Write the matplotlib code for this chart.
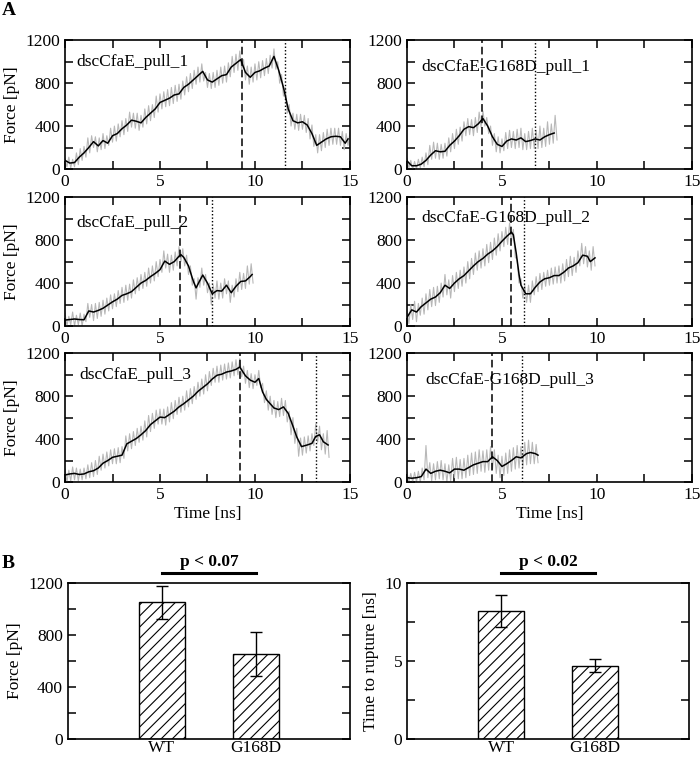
import numpy as np
import matplotlib
matplotlib.use('Agg')
import matplotlib.pyplot as plt
from matplotlib.ticker import MultipleLocator

plt.rcParams['font.family'] = ['Liberation Serif', 'DejaVu Serif']
plt.rcParams['font.size'] = 12.5
plt.rcParams['hatch.linewidth'] = 0.8

# ---- Panel A data: smoothed (black) traces, time in ns, force in pN ----
t_wt1 = [0, 0.25, 0.5, 0.75, 1.0, 1.25, 1.5, 1.75, 2.0, 2.25, 2.5, 2.75, 3.0, 3.25, 3.5, 3.75, 4.0,
         4.25, 4.5, 4.75, 5.0, 5.25, 5.5, 5.75, 6.0, 6.25, 6.5, 6.75, 7.0, 7.25, 7.5, 7.75, 8.0,
         8.25, 8.5, 8.75, 9.0, 9.25, 9.5, 9.75, 10.0, 10.25, 10.5, 10.75, 11.0, 11.25, 11.5, 11.75,
         12.0, 12.25, 12.5, 12.75, 13.0, 13.25, 13.5, 13.75, 14.0, 14.25, 14.5, 14.75, 14.9]
f_wt1 = [80, 55, 60, 110, 150, 200, 255, 215, 265, 240, 310, 330, 375, 410, 455, 445, 430,
         480, 520, 560, 620, 640, 660, 690, 700, 760, 790, 830, 870, 910, 830, 810, 840,
         870, 880, 950, 985, 1020, 900, 855, 900, 915, 940, 960, 1050, 920, 760, 560,
         450, 430, 440, 410, 330, 220, 250, 280, 300, 305, 300, 240, 280]

t_wt2 = [0, 0.25, 0.5, 0.75, 1.0, 1.25, 1.5, 1.75, 2.0, 2.25, 2.5, 2.75, 3.0, 3.25, 3.5, 3.75, 4.0,
         4.25, 4.5, 4.75, 5.0, 5.25, 5.5, 5.75, 6.0, 6.1, 6.25, 6.5, 6.75, 6.9, 7.0, 7.25, 7.5,
         7.75, 8.0, 8.25, 8.5, 8.75, 9.0, 9.25, 9.5, 9.75, 9.85]
f_wt2 = [55, 60, 65, 60, 58, 140, 130, 145, 165, 195, 225, 250, 285, 300, 320, 360, 400,
         425, 460, 490, 525, 605, 575, 600, 650, 665, 640, 560, 420, 355, 390, 475, 400,
         300, 330, 325, 380, 310, 370, 415, 420, 460, 480]

t_wt3 = [0, 0.25, 0.5, 0.75, 1.0, 1.25, 1.5, 1.75, 2.0, 2.25, 2.5, 2.75, 3.0, 3.25, 3.5, 3.75, 4.0,
         4.25, 4.5, 4.75, 5.0, 5.25, 5.5, 5.75, 6.0, 6.25, 6.5, 6.75, 7.0, 7.25, 7.5, 7.75, 8.0,
         8.25, 8.5, 8.75, 9.0, 9.2, 9.5, 9.75, 10.0, 10.2, 10.4, 10.6, 10.8, 11.0, 11.25, 11.5,
         11.75, 12.0, 12.2, 12.45, 12.75, 13.0, 13.2, 13.4, 13.6, 13.85]
f_wt3 = [65, 75, 80, 70, 75, 95, 105, 130, 175, 200, 230, 240, 250, 355, 380, 405, 440,
         480, 535, 570, 605, 600, 630, 660, 700, 730, 765, 800, 845, 880, 915, 960, 995,
         1005, 1025, 1035, 1050, 1072, 990, 950, 930, 965, 840, 770, 730, 690, 675, 700,
         640, 520, 420, 330, 345, 360, 425, 440, 375, 345]

t_g1 = [0, 0.25, 0.5, 0.75, 1.0, 1.25, 1.5, 1.75, 2.0, 2.25, 2.5, 2.75, 3.0, 3.25, 3.5, 3.75,
        4.0, 4.25, 4.5, 4.75, 5.0, 5.25, 5.5, 5.75, 6.0, 6.25, 6.5, 6.75, 7.0, 7.25, 7.5, 7.75]
f_g1 = [75, 30, 30, 45, 80, 130, 170, 160, 165, 220, 260, 310, 370, 395, 385, 420,
        470, 400, 300, 230, 210, 260, 280, 270, 290, 255, 265, 280, 270, 300, 320, 335]

t_g2 = [0, 0.25, 0.5, 0.75, 1.0, 1.25, 1.5, 1.75, 2.0, 2.25, 2.5, 2.75, 3.0, 3.25, 3.5, 3.75,
        4.0, 4.25, 4.5, 4.75, 5.0, 5.25, 5.5, 5.6, 5.75, 5.9, 6.0, 6.25, 6.5, 6.75, 7.0, 7.25,
        7.5, 7.75, 8.0, 8.25, 8.5, 8.75, 9.0, 9.25, 9.5, 9.65, 9.9]
f_g2 = [80, 150, 130, 180, 215, 250, 270, 310, 380, 350, 400, 440, 470, 515, 560, 600,
        630, 670, 700, 740, 790, 835, 875, 850, 680, 480, 380, 300, 300, 360, 410, 440,
        450, 470, 470, 500, 540, 560, 590, 660, 650, 600, 635]

t_g3 = [0, 0.25, 0.5, 0.75, 1.0, 1.25, 1.5, 1.75, 2.0, 2.25, 2.5, 2.75, 3.0, 3.25, 3.5, 3.75,
        4.0, 4.25, 4.5, 4.75, 5.0, 5.25, 5.5, 5.75, 6.0, 6.3, 6.5, 6.75, 6.9]
f_g3 = [40, 35, 40, 50, 120, 80, 100, 110, 100, 85, 120, 120, 110, 135, 160, 175,
        190, 190, 235, 200, 145, 170, 200, 235, 225, 265, 275, 265, 250]

# ---- raw (gray) traces, one value every 0.1 ns starting at 0 ----
raw_wt1 = [100, 20, 110, 10, 90, 20, 150, 40, 190, 80,
           210, 110, 290, 150, 310, 200, 300, 160, 290, 180,
           330, 190, 310, 220, 380, 250, 400, 260, 420, 300,
           450, 320, 470, 350, 530, 390, 520, 380, 520, 360,
           500, 390, 560, 420, 590, 450, 600, 480, 680, 530,
           700, 560, 720, 580, 740, 590, 760, 610, 780, 630,
           790, 650, 820, 690, 860, 720, 890, 750, 920, 790,
           950, 810, 980, 820, 900, 760, 890, 750, 900, 760,
           920, 780, 950, 800, 960, 810, 990, 860, 1050, 900,
           1070, 920, 1100, 930, 1020, 830, 960, 790, 950, 810,
           980, 830, 1000, 850, 1010, 870, 1030, 890, 1060, 940,
           1120, 930, 1000, 800, 880, 680, 760, 520, 600, 400,
           520, 370, 510, 360, 510, 370, 500, 340, 470, 280,
           410, 210, 320, 150, 320, 170, 340, 200, 370, 220,
           380, 230, 380, 230, 380, 220, 350, 180, 330, 220,
           340]

raw_wt2 = [120, 0, 90, 10, 130, 0, 100, 10, 120, 0,
           110, 40, 210, 80, 200, 50, 210, 70, 220, 90,
           240, 110, 260, 140, 290, 160, 300, 180, 330, 210,
           360, 220, 380, 240, 390, 260, 430, 300, 450, 330,
           480, 350, 500, 370, 540, 400, 560, 420, 600, 460,
           620, 500, 700, 540, 670, 500, 660, 520, 690, 560,
           740, 600, 720, 560, 660, 480, 560, 380, 440, 250,
           450, 360, 540, 380, 480, 310, 400, 200, 380, 260,
           420, 250, 400, 260, 440, 300, 420, 220, 380, 270,
           440, 320, 500, 340, 490, 350, 560, 390, 580, 400]

raw_wt3 = [120, 0, 110, 10, 140, 20, 130, 10, 120, 20,
           130, 30, 160, 40, 180, 50, 200, 70, 240, 110,
           260, 130, 280, 150, 300, 170, 310, 170, 320, 180,
           330, 220, 430, 290, 450, 310, 470, 340, 500, 370,
           520, 390, 570, 420, 620, 470, 640, 500, 670, 540,
           680, 540, 680, 530, 700, 560, 740, 590, 760, 630,
           790, 650, 800, 670, 850, 700, 870, 730, 890, 770,
           930, 800, 960, 820, 1000, 850, 1030, 900, 1060, 930,
           1080, 930, 1090, 950, 1100, 960, 1110, 970, 1120, 990,
           1140, 1000, 1150, 980, 1080, 920, 1040, 880, 1010, 870,
           1000, 900, 1040, 880, 920, 740, 850, 670, 800, 630,
           760, 600, 750, 610, 780, 620, 760, 560, 660, 440,
           600, 360, 500, 240, 410, 250, 420, 270, 430, 290,
           450, 340, 540, 370, 520, 300, 450, 260, 480, 230]

raw_g1 = [100, 10, 80, 0, 70, 0, 90, 10, 110, 20,
          150, 40, 220, 90, 250, 100, 240, 90, 230, 100,
          240, 120, 290, 160, 330, 190, 370, 230, 390, 260,
          440, 310, 470, 320, 460, 310, 480, 340, 530, 390,
          540, 400, 480, 330, 400, 220, 330, 160, 300, 150,
          280, 170, 340, 190, 360, 200, 350, 190, 370, 200,
          380, 180, 330, 180, 350, 190, 380, 190, 360, 190,
          400, 200, 380, 210, 440, 230, 420, 240, 500, 270]

raw_g2 = [150, 20, 200, 60, 230, 40, 210, 100, 260, 110,
          300, 150, 340, 180, 360, 190, 370, 220, 400, 270,
          480, 290, 430, 260, 470, 320, 500, 350, 520, 370,
          550, 400, 600, 440, 630, 480, 680, 520, 700, 540,
          720, 560, 760, 590, 780, 620, 820, 660, 860, 700,
          880, 740, 920, 760, 960, 790, 900, 640, 620, 400,
          440, 260, 380, 220, 380, 220, 420, 290, 460, 320,
          490, 340, 500, 370, 520, 380, 540, 390, 550, 400,
          560, 400, 580, 420, 620, 460, 650, 470, 640, 500,
          700, 560, 770, 580, 740, 550, 700, 520, 740, 560]

raw_g3 = [90, 0, 80, 0, 90, 0, 100, 0, 130, 20,
          340, 40, 180, 10, 170, 20, 190, 30, 200, 20,
          170, 0, 160, 10, 220, 40, 230, 30, 210, 30,
          220, 40, 250, 60, 270, 70, 280, 80, 300, 100,
          290, 90, 300, 110, 330, 120, 300, 80, 250, 40,
          240, 60, 270, 80, 300, 100, 320, 120, 340, 130,
          330, 140, 370, 160, 390, 170, 370, 170, 350, 180]

labels = ['dscCfaE_pull_1', 'dscCfaE-G168D_pull_1',
          'dscCfaE_pull_2', 'dscCfaE-G168D_pull_2',
          'dscCfaE_pull_3', 'dscCfaE-G168D_pull_3']
t_smooth = [t_wt1, t_g1, t_wt2, t_g2, t_wt3, t_g3]
f_smooth = [f_wt1, f_g1, f_wt2, f_g2, f_wt3, f_g3]
f_raw = [raw_wt1, raw_g1, raw_wt2, raw_g2, raw_wt3, raw_g3]
t_dashed = [9.3, 3.97, 6.05, 5.47, 9.2, 4.5]
t_dotted = [11.6, 6.72, 7.72, 6.18, 13.2, 6.05]
label_pos = [(0.04, 0.83), (0.05, 0.79), (0.04, 0.80), (0.05, 0.84), (0.05, 0.83), (0.065, 0.79)]

# ---- Panel B data ----
groups = ['WT', 'G168D']
force_mean = [1050, 655]
force_err = [125, 168]
rupture_mean = [8.2, 4.7]
rupture_err = [1.05, 0.4]
p_texts = ['p < 0.07', 'p < 0.02']

fig = plt.figure(figsize=(7, 7.57), dpi=100)

lefts = [0.0929, 0.5814]
bottoms = [0.7768, 0.5694, 0.3633]
for i in range(6):
    row, col = divmod(i, 2)
    ax = fig.add_axes([lefts[col], bottoms[row], 0.407, 0.170])
    t_raw = np.arange(len(f_raw[i])) * 0.1
    ax.plot(t_raw, f_raw[i], color='#b8b8b8', lw=0.8)
    ax.plot(t_smooth[i], f_smooth[i], color='black', lw=1.1)
    ax.axvline(t_dashed[i], color='black', ls=(0, (5, 2.5)), lw=1.1)
    ax.axvline(t_dotted[i], color='black', ls=(0, (1, 1.5)), lw=1.0)
    ax.text(label_pos[i][0], label_pos[i][1], labels[i], transform=ax.transAxes,
            va='center', ha='left', fontsize=12.5)
    ax.set_xlim(0, 15)
    ax.set_ylim(0, 1200)
    ax.set_xticks([0, 5, 10, 15])
    ax.set_yticks([0, 400, 800, 1200])
    ax.xaxis.set_minor_locator(MultipleLocator(2.5))
    ax.yaxis.set_minor_locator(MultipleLocator(200))
    ax.tick_params(which='both', direction='in', top=True, right=True, width=1.1, length=6)
    for s in ax.spines.values():
        s.set_linewidth(1.2)
    if col == 0:
        ax.set_ylabel('Force [pN]')
    if row == 2:
        ax.set_xlabel('Time [ns]', labelpad=2)

fig.text(0.012, 0.986, 'A', fontsize=14, fontweight='bold', va='center', ha='center')
fig.text(0.012, 0.256, 'B', fontsize=14, fontweight='bold', va='center', ha='center')

# ---- Panel B bars ----
b_lefts = [0.0971, 0.5814]
b_means = [force_mean, rupture_mean]
b_errs = [force_err, rupture_err]
b_ylims = [1200, 10]
b_major = [400, 5]
b_minor = [200, 2.5]
b_ylabels = ['Force [pN]', 'Time to rupture [ns]']
x = [1, 2]
for j in range(2):
    ax = fig.add_axes([b_lefts[j], 0.0238, 0.4029, 0.2061])
    ax.bar(x, b_means[j], width=0.48, color='white', edgecolor='black', hatch='///', lw=1.0)
    ax.errorbar(x, b_means[j], yerr=b_errs[j], fmt='none', ecolor='black', elinewidth=1.0,
                capsize=4.5, capthick=1.0)
    ax.set_xlim(0, 3)
    ax.set_ylim(0, b_ylims[j])
    ax.set_xticks(x)
    ax.set_xticklabels(groups)
    ax.yaxis.set_major_locator(MultipleLocator(b_major[j]))
    ax.yaxis.set_minor_locator(MultipleLocator(b_minor[j]))
    ax.tick_params(axis='y', which='both', direction='in', right=True, length=6, width=1.1)
    ax.tick_params(axis='x', length=0, pad=1)
    for s in ax.spines.values():
        s.set_linewidth(1.2)
    ax.set_ylabel(b_ylabels[j])
    ax.plot([1, 2], [1.064, 1.064], color='black', lw=2.2, clip_on=False,
            transform=ax.get_xaxis_transform())
    ax.text(1.5, 1.135, p_texts[j], ha='center', va='center', fontweight='bold', fontsize=12.5,
            transform=ax.get_xaxis_transform())

fig.savefig('out.png', dpi=100)
